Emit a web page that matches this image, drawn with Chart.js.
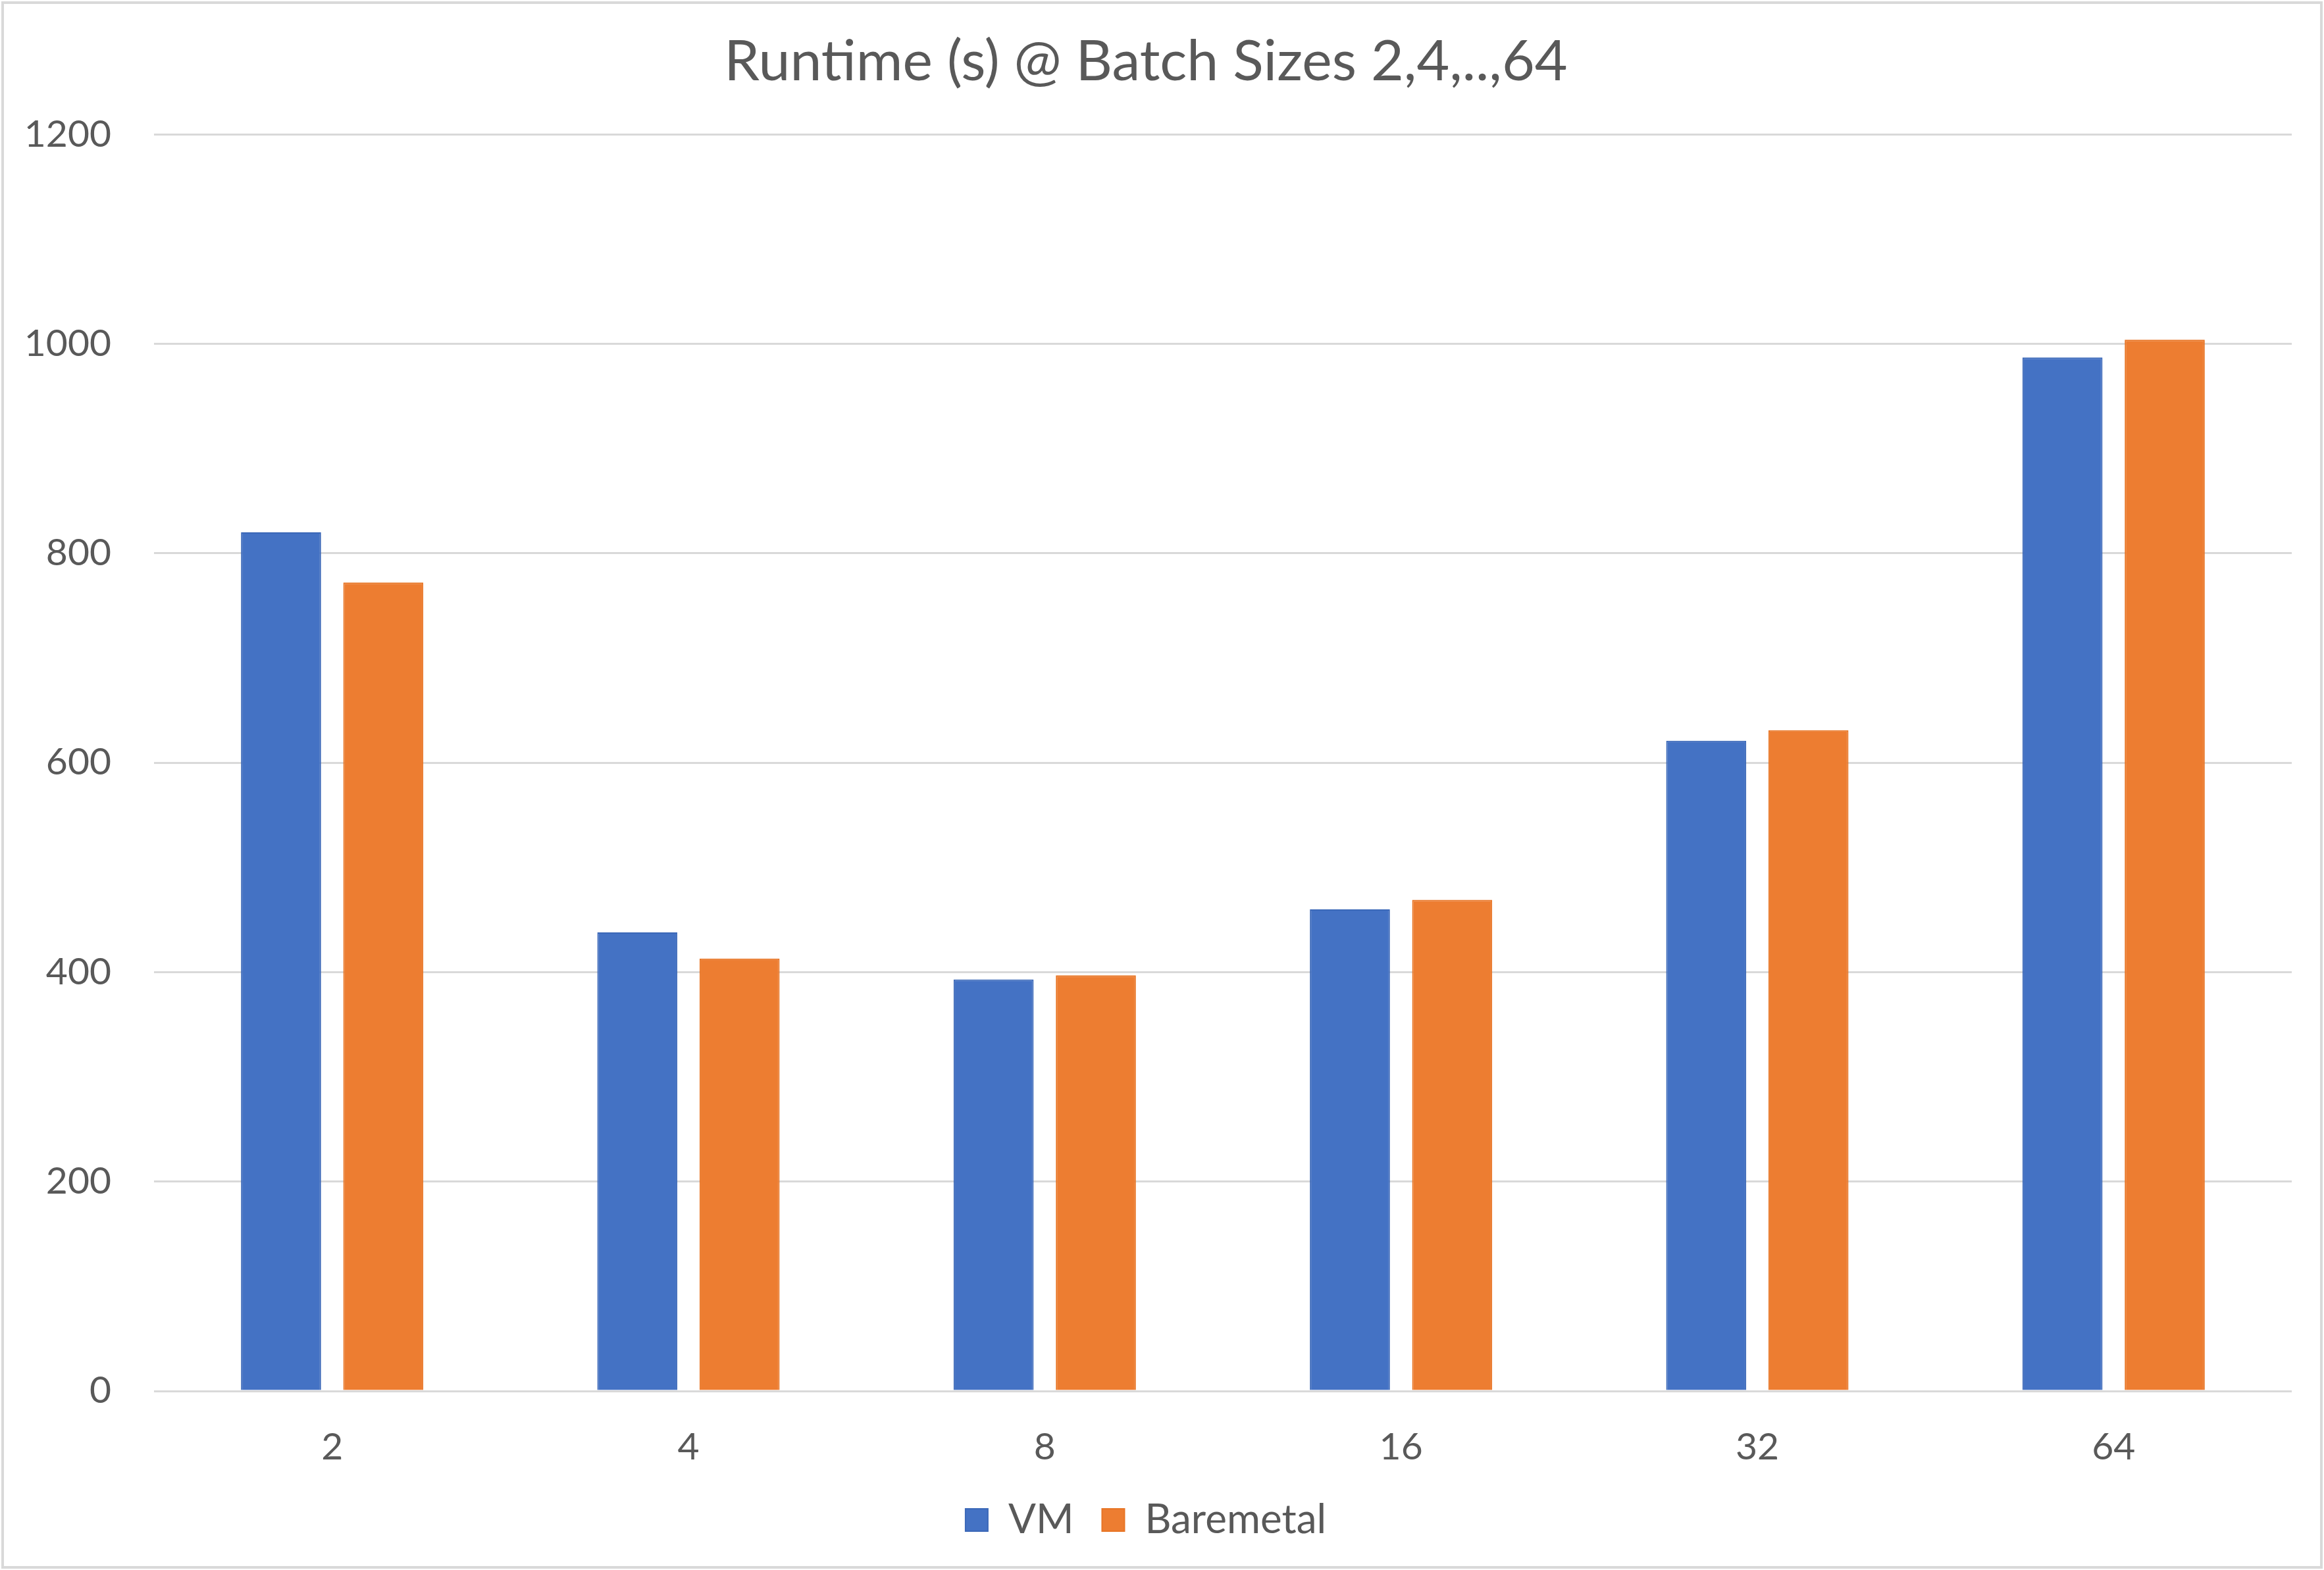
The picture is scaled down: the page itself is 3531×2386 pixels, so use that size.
<!DOCTYPE html>
<html lang="en">
<head>
<meta charset="UTF-8">
<title>Runtime @ Batch Sizes</title>
<script src="https://cdn.jsdelivr.net/npm/chart.js"></script>
<style>
    html, body { margin: 0; padding: 0; background: #ffffff; }
    #box { position: relative; width: 3531px; height: 2386px; }
    #grafico { display: block; }
</style>
</head>
<body>
<div id="box"><canvas id="grafico" width="3531" height="2386"></canvas></div>

<script>
    // dados
    var batchSizes = ['2', '4', '8', '16', '32', '64'];
    var vmRuntime = [820, 438, 393, 460, 621, 987];
    var baremetalRuntime = [772, 413, 397, 469, 631, 1004];
    var yTicks = [0, 200, 400, 600, 800, 1000, 1200];

    var corTexto = '#595959';
    var fonte = 'Lato, "Open Sans", sans-serif';

    // moldura cinza em volta do gráfico
    var moldura = {
        id: 'moldura',
        afterDraw: function (chart) {
            var ctx = chart.ctx;
            ctx.save();
            ctx.strokeStyle = '#d9d9d9';
            ctx.lineWidth = 4;
            ctx.strokeRect(4, 4, chart.width - 8, chart.height - 8);
            ctx.restore();
        }
    };

    var ctx = document.getElementById('grafico').getContext('2d');

    new Chart(ctx, {
        type: 'bar',
        data: {
            labels: batchSizes,
            datasets: [
                {
                    label: 'VM',
                    data: vmRuntime,
                    backgroundColor: '#4472C4',
                    borderColor: '#3b68b8',
                    borderWidth: 2
                },
                {
                    label: 'Baremetal',
                    data: baremetalRuntime,
                    backgroundColor: '#ED7D31',
                    borderColor: '#e87525',
                    borderWidth: 2
                }
            ]
        },
        options: {
            responsive: false,
            animation: false,
            devicePixelRatio: 1,
            categoryPercentage: 0.574,
            barPercentage: 0.783,
            layout: {
                padding: { top: 0, right: 49, bottom: 35, left: 0 }
            },
            scales: {
                x: {
                    afterFit: function (axis) {
                        axis.height = 122;
                    },
                    grid: { display: false },
                    border: { display: false },
                    ticks: {
                        color: corTexto,
                        padding: 43,
                        font: { family: fonte, size: 57 }
                    }
                },
                y: {
                    min: 0,
                    max: 1200,
                    afterBuildTicks: function (axis) {
                        axis.ticks = yTicks.map(function (v) { return { value: v }; });
                    },
                    afterFit: function (axis) {
                        axis.width = 234;
                    },
                    grid: {
                        color: '#d9d9d9',
                        lineWidth: 3,
                        drawTicks: false
                    },
                    border: { display: false },
                    ticks: {
                        color: corTexto,
                        padding: 65,
                        font: { family: fonte, size: 57 },
                        callback: function (v) { return String(v); }
                    }
                }
            },
            plugins: {
                title: {
                    display: true,
                    text: 'Runtime (s) @ Batch Sizes 2,4,..,64',
                    color: corTexto,
                    font: { family: fonte, size: 86, weight: 'normal' },
                    padding: { top: 43, bottom: 58 }
                },
                legend: {
                    position: 'bottom',
                    labels: {
                        color: corTexto,
                        boxWidth: 34,
                        boxHeight: 34,
                        padding: 43,
                        font: { family: fonte, size: 62 }
                    }
                },
                tooltip: { enabled: false }
            }
        },
        plugins: [moldura]
    });
</script>
</body>
</html>
